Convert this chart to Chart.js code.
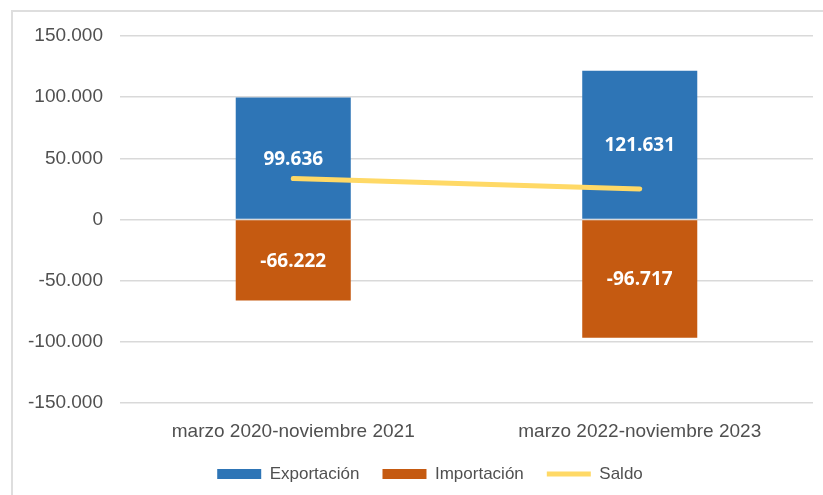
<!DOCTYPE html>
<html>
<head>
  <script src="https://cdn.jsdelivr.net/npm/chart.js"></script>
  <style>
    body { margin: 0; background: #fff; }
    .wrap { position: relative; width: 823px; height: 495px; overflow: hidden; }
    .frame {
      position: absolute; left: 11px; top: 10px; width: 900px; height: 600px;
      border-left: 2px solid #dedede; border-top: 2px solid #dedede;
    }
    canvas { position: absolute; left: 0; top: 0; }
  </style>
</head>
<body>
<div class="wrap">
  <div class="frame"></div>
  <canvas id="chart"></canvas>
</div>
<script>
  const periods = ['marzo 2020-noviembre 2021', 'marzo 2022-noviembre 2023'];
  const exportacion = [99636, 121631];
  const importacion = [-66222, -96717];
  const saldo = [33414, 24914];
  const yTicks = [-150000, -100000, -50000, 0, 50000, 100000, 150000];

  // miles con punto, como en el original
  const fmt = v => {
    const s = Math.abs(v).toString().replace(/\B(?=(\d{3})+(?!\d))/g, '.');
    return (v < 0 ? '-' : '') + s;
  };

  const barLabels = {
    id: 'barLabels',
    afterLayout(chart) {
      // la leyenda del original va algo desplazada a la derecha
      chart.legend.left += 47;
    },
    afterDatasetsDraw(chart) {
      const ctx = chart.ctx;
      ctx.save();
      ctx.font = 'bold 19px "Open Sans", sans-serif';
      ctx.fillStyle = '#ffffff';
      ctx.textAlign = 'center';
      ctx.textBaseline = 'middle';
      [0, 1].forEach(di => {
        const meta = chart.getDatasetMeta(di);
        meta.data.forEach((bar, i) => {
          const p = bar.getProps(['x', 'y', 'base'], true);
          ctx.fillText(fmt(chart.data.datasets[di].data[i]), p.x, (p.y + p.base) / 2 + 1);
        });
      });
      ctx.restore();
    }
  };

  new Chart(document.getElementById('chart'), {
    type: 'bar',
    data: {
      labels: periods,
      datasets: [
        { label: 'Exportación', data: exportacion, backgroundColor: '#2E75B6', order: 1,
          categoryPercentage: 1, barPercentage: 0.332 },
        { label: 'Importación', data: importacion, backgroundColor: '#C55A11', order: 1,
          categoryPercentage: 1, barPercentage: 0.332 },
        { label: 'Saldo', type: 'line', data: saldo, borderColor: '#FFD966', backgroundColor: '#FFD966',
          borderWidth: 5, pointRadius: 0, borderCapStyle: 'round', order: 0 }
      ]
    },
    options: {
      responsive: true,
      maintainAspectRatio: false,
      animation: false,
      layout: { padding: { left: 0, right: 10, top: 36, bottom: 2.5 } },
      plugins: {
        tooltip: { enabled: false },
        legend: {
          position: 'bottom',
          labels: {
            usePointStyle: true,
            pointStyleWidth: 44,
            boxHeight: 10,
            padding: 23,
            color: '#505050',
            font: { family: '"Liberation Sans", Arial, sans-serif', size: 17 },
            sort: (a, b) => a.datasetIndex - b.datasetIndex,
            generateLabels: chart => Chart.defaults.plugins.legend.labels.generateLabels(chart)
              .map(it => Object.assign(it, {
                pointStyle: it.datasetIndex === 2 ? 'line' : 'rect',
                lineWidth: it.datasetIndex === 2 ? 5 : 0
              }))
          }
        }
      },
      scales: {
        x: {
          stacked: true,
          grid: { display: false, drawTicks: false },
          border: { display: false },
          ticks: { padding: 17, color: '#505050', font: { family: '"Liberation Sans", Arial, sans-serif', size: 19 } },
          afterFit: s => { s.height = 39.5; }
        },
        y: {
          stacked: true,
          min: -150000,
          max: 150000,
          grid: { color: '#d9d9d9', lineWidth: 1.5, drawTicks: false },
          border: { display: false },
          afterBuildTicks: s => { s.ticks = yTicks.map(v => ({ value: v })); },
          afterFit: s => { s.width = 120; },
          ticks: {
            padding: 17,
            color: '#505050',
            font: { family: '"Liberation Sans", Arial, sans-serif', size: 19 },
            callback: v => fmt(v)
          }
        }
      }
    },
    plugins: [barLabels]
  });
</script>
</body>
</html>
